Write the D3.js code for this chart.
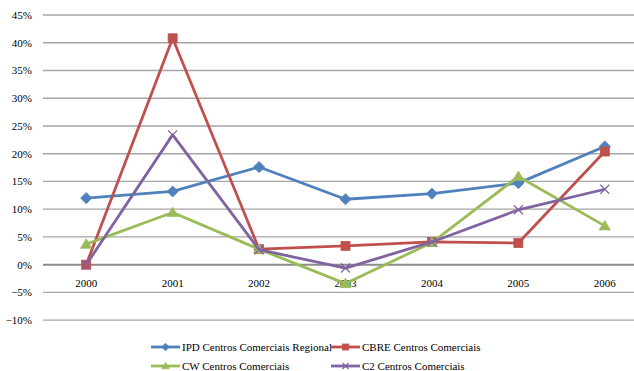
<!DOCTYPE html>
<html>
<head>
<meta charset="utf-8">
<script src="https://cdn.jsdelivr.net/npm/d3@7"></script>
<style>
  html, body { margin: 0; padding: 0; background: #fff; }
  svg { display: block; }
</style>
</head>
<body>
<svg id="chart" width="634" height="371"></svg>
<script>
// Annual returns of shopping-centre indices (%)
const years = ["2000", "2001", "2002", "2003", "2004", "2005", "2006"];
const ipdRegional = [12.0, 13.2, 17.6, 11.8, 12.8, 14.7, 21.3];
const cbreComerciais = [0.0, 40.8, 2.8, 3.4, 4.1, 3.9, 20.4];
const cwComerciais = [3.7, 9.4, 2.8, -3.4, 4.0, 15.9, 7.0];
const c2Comerciais = [0.0, 23.4, 2.7, -0.6, 4.1, 9.9, 13.6];
const yTicks = [-10, -5, 0, 5, 10, 15, 20, 25, 30, 35, 40, 45];

const seriesNames = [
  "IPD Centros Comerciais Regional",
  "CBRE Centros Comerciais",
  "CW Centros Comerciais",
  "C2 Centros Comerciais"
];
const seriesValues = [ipdRegional, cbreComerciais, cwComerciais, c2Comerciais];
const seriesColors = ["#4F81BD", "#C0504D", "#9BBB59", "#8064A2"];
const seriesMarkers = ["diamond", "square", "triangle", "cross"];

const fontStack = "Liberation Serif, DejaVu Serif, serif";

const svg = d3.select("#chart");

const x = d3.scaleBand().domain(years).range([43, 648]);
const y = d3.scaleLinear().domain([-10, 45]).range([320.2, 15]);
const cx = d => x(d) + x.bandwidth() / 2;

// Horizontal gridlines
svg.append("g")
  .selectAll("line")
  .data(yTicks)
  .join("line")
  .attr("x1", 43)
  .attr("x2", 648)
  .attr("y1", d => y(d))
  .attr("y2", d => y(d))
  .attr("stroke", d => d === 0 ? "#8a8a8a" : "#a6a6a6")
  .attr("stroke-width", d => d === 0 ? 2 : 1.3);

// Value axis labels
svg.append("g")
  .selectAll("text")
  .data(yTicks)
  .join("text")
  .attr("x", 32)
  .attr("y", d => y(d))
  .attr("dy", "0.35em")
  .attr("text-anchor", "end")
  .style("font-family", fontStack)
  .style("font-size", "11px")
  .attr("fill", "#000")
  .text(d => d3.format("d")(d) + "%");

// Category labels
svg.append("g")
  .selectAll("text")
  .data(years)
  .join("text")
  .attr("x", d => cx(d))
  .attr("y", y(0) + 22)
  .attr("text-anchor", "middle")
  .style("font-family", fontStack)
  .style("font-size", "11px")
  .attr("fill", "#000")
  .text(d => d);

function drawMarker(g, kind, color, size) {
  const s = size;
  if (kind === "diamond") {
    g.append("path")
      .attr("d", `M0,${-s * 0.62}L${s * 0.62},0L0,${s * 0.62}L${-s * 0.62},0Z`)
      .attr("fill", color).attr("stroke", color).attr("stroke-width", 0.8);
  } else if (kind === "square") {
    g.append("rect")
      .attr("x", -s / 2).attr("y", -s / 2).attr("width", s).attr("height", s)
      .attr("fill", color).attr("stroke", color).attr("stroke-width", 0.8);
  } else if (kind === "triangle") {
    g.append("path")
      .attr("d", `M0,${-s * 0.6}L${s * 0.62},${s * 0.45}L${-s * 0.62},${s * 0.45}Z`)
      .attr("fill", color).attr("stroke", color).attr("stroke-width", 0.8);
  } else {
    const h = s * 0.5;
    g.append("path")
      .attr("d", `M${-h},${-h}L${h},${h}M${-h},${h}L${h},${-h}`)
      .attr("fill", "none").attr("stroke", color).attr("stroke-width", 1.2);
  }
}

const line = d3.line()
  .x((d, i) => cx(years[i]))
  .y(d => y(d));

seriesValues.forEach((vals, k) => {
  const g = svg.append("g");
  g.append("path")
    .datum(vals)
    .attr("d", line)
    .attr("fill", "none")
    .attr("stroke", seriesColors[k])
    .attr("stroke-width", 2.8)
    .attr("stroke-linejoin", "round");
  vals.forEach((v, i) => {
    const m = g.append("g").attr("transform", `translate(${cx(years[i])},${y(v)})`);
    drawMarker(m, seriesMarkers[k], seriesColors[k], 9);
  });
});

// Legend
const legendPos = [
  { x: 151, y: 347 },
  { x: 331, y: 347 },
  { x: 151, y: 366 },
  { x: 331, y: 366 }
];
seriesNames.forEach((name, k) => {
  const p = legendPos[k];
  const g = svg.append("g").attr("transform", `translate(${p.x},${p.y})`);
  g.append("line")
    .attr("x1", 0).attr("x2", 29).attr("y1", 0).attr("y2", 0)
    .attr("stroke", seriesColors[k]).attr("stroke-width", 2.8);
  const m = g.append("g").attr("transform", "translate(14.5,0)");
  drawMarker(m, seriesMarkers[k], seriesColors[k], 6);
  g.append("text")
    .attr("x", 31).attr("y", 0).attr("dy", "0.35em")
    .style("font-family", fontStack)
    .style("font-size", "11px")
    .attr("fill", "#000")
    .text(name);
});
</script>
</body>
</html>
